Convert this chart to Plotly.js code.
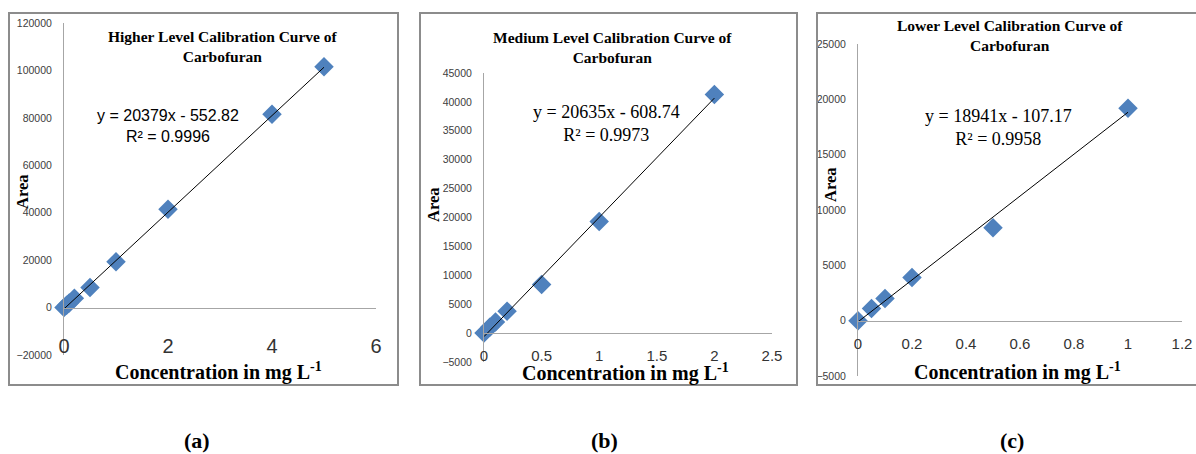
<!DOCTYPE html>
<html><head><meta charset="utf-8">
<script src="https://cdn.plot.ly/plotly-3.0.1.min.js"></script>
<style>html,body{margin:0;padding:0;background:#fff}#chart{width:1196px;height:454px}</style>
</head><body><div id="chart"></div>
<script>
// ---- data ----
const concHigh = [0, 0.05, 0.1, 0.2, 0.5, 1, 2, 4, 5];
const areaHigh = [0, 1000, 1900, 3900, 8500, 19300, 41500, 81500, 101500];
const concMed  = [0, 0.05, 0.1, 0.2, 0.5, 1, 2];
const areaMed  = [0, 1000, 1900, 3800, 8400, 19300, 41300];
const concLow  = [0, 0.05, 0.1, 0.2, 0.5, 1];
const areaLow  = [0, 1100, 2000, 3900, 8400, 19200];
const slopes = [20379, 20635, 18941];
const intercepts = [-552.82, -608.74, -107.17];
const r2 = ["0.9996", "0.9973", "0.9958"];
const titles = ["Higher Level Calibration Curve of<br>Carbofuran",
                "Medium Level Calibration Curve of<br>Carbofuran",
                "Lower Level Calibration Curve of<br>Carbofuran"];
const panelLabels = ["(a)", "(b)", "(c)"];
const xTitle = "Concentration in mg L<sup>-1</sup>";
const yTitle = "Area";
const xRanges = [[0, 6], [0, 2.5], [0, 1.2]];
const yRanges = [[-20000, 120000], [-5000, 45000], [-5000, 25000]];
const xDticks = [2, 0.5, 0.2];
const yDticks = [20000, 5000, 5000];

const concs = [concHigh, concMed, concLow];
const areas = [areaHigh, areaMed, areaLow];

// ---- layout geometry (pixels) ----
const W = 1196, H = 454;
const px = x => x / W, py = y => 1 - y / H;
const geo = [
  {plot:[64,376,23,355], box:[9,398,13,385], title:[223,46], eq:[168,126], eqFont:'Liberation Sans', eqSize:16, xt:[218,371], yt:[23,192], lab:[197,440], xtSize:20, xStand:20},
  {plot:[484,772,73,362], box:[420,797,13,385], title:[612,47], eq:[606,123], eqFont:'Liberation Serif', eqSize:18, xt:[625,372], yt:[433,205], lab:[604,440], xtSize:15, xStand:9},
  {plot:[858,1182,44,376], box:[817,1198,13,385], title:[1010,35], eq:[998,127], eqFont:'Liberation Serif', eqSize:18, xt:[1017,371], yt:[831,185], lab:[1012,440], xtSize:15, xStand:9}
];

const data = [];
const layout = {
  width: W, height: H, margin:{l:0,r:0,t:0,b:0},
  paper_bgcolor:'#fff', plot_bgcolor:'rgba(0,0,0,0)',
  showlegend:false, annotations:[], shapes:[]
};
const serif = 'Liberation Serif, Times New Roman, serif';
const axisCol = '#a6a6a6';

geo.forEach((g, i) => {
  const n = i === 0 ? '' : String(i + 1);
  const xa = 'x' + n, ya = 'y' + n;
  const xd = [px(g.plot[0]), px(g.plot[1])];
  const yd = [py(g.plot[3]), py(g.plot[2])];
  const yr = yRanges[i];
  const zeroPos = yd[0] + (0 - yr[0]) / (yr[1] - yr[0]) * (yd[1] - yd[0]);

  layout['xaxis' + n] = {
    domain: xd, range: xRanges[i], dtick: xDticks[i], tick0: 0,
    anchor: 'free', position: zeroPos,
    showline: true, linecolor: axisCol, linewidth: 1,
    showgrid: false, zeroline: false, ticks: '',
    ticklabelstandoff: g.xStand,
    tickfont: {family: 'Liberation Sans, Arial, sans-serif', size: g.xtSize, color: '#333'},
    fixedrange: true
  };
  layout['yaxis' + n] = {
    domain: yd, range: yr, dtick: yDticks[i], tick0: 0,
    anchor: xa, showline: true, linecolor: axisCol, linewidth: 1,
    showgrid: false, zeroline: false, ticks: '', tickformat: 'd',
    ticklabelstandoff: 9,
    tickfont: {family: 'Liberation Sans, Arial, sans-serif', size: 10.5, color: '#404040'},
    fixedrange: true
  };

  data.push({
    type: 'scatter', mode: 'markers', x: concs[i], y: areas[i], xaxis: xa, yaxis: ya,
    cliponaxis: false,
    marker: {symbol: 'diamond', size: 15, color: '#4f81bd', line: {width: 0}},
    hoverinfo: 'x+y'
  });
  const xmax = Math.max(...concs[i]);
  const xmin = Math.min(...concs[i]);
  data.push({
    type: 'scatter', mode: 'lines', x: [xmin, xmax],
    y: [slopes[i] * xmin + intercepts[i], slopes[i] * xmax + intercepts[i]],
    xaxis: xa, yaxis: ya, cliponaxis: false,
    line: {color: '#000', width: 1}, hoverinfo: 'skip'
  });

  layout.shapes.push({type:'rect', xref:'paper', yref:'paper',
    x0: px(g.box[0]), x1: px(g.box[1]), y0: py(g.box[3]), y1: py(g.box[2]),
    line:{color:'#8c8c8c', width:2}, fillcolor:'rgba(0,0,0,0)'});

  const ann = (text, x, y, font, extra) => layout.annotations.push(Object.assign({
    text, xref:'paper', yref:'paper', x: px(x), y: py(y), xanchor:'center', yanchor:'middle',
    showarrow:false, font}, extra || {}));

  ann('<b>' + titles[i] + '</b>', g.title[0], g.title[1], {family: serif, size: 15.5, color: '#000'});
  const sign = intercepts[i] < 0 ? ' - ' : ' + ';
  ann('y = ' + slopes[i] + 'x' + sign + Math.abs(intercepts[i]).toFixed(2) + '<br>R² = ' + r2[i],
      g.eq[0], g.eq[1], {family: g.eqFont, size: g.eqSize, color: '#000'});
  ann('<b>' + xTitle + '</b>', g.xt[0], g.xt[1], {family: serif, size: 20, color: '#000'});
  ann('<b>' + yTitle + '</b>', g.yt[0], g.yt[1], {family: serif, size: 16.5, color: '#000'}, {textangle: -90});
  ann('<b>' + panelLabels[i] + '</b>', g.lab[0], g.lab[1], {family: serif, size: 22, color: '#000'});
});

Plotly.newPlot('chart', data, layout, {displayModeBar: false, staticPlot: true});
</script>
</body></html>
